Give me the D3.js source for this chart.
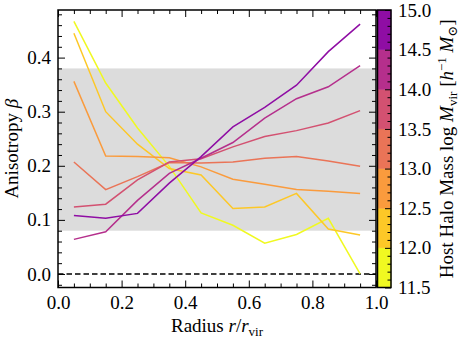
<!DOCTYPE html>
<html>
<head>
<meta charset="utf-8">
<script src="https://cdn.jsdelivr.net/npm/d3@7"></script>
<style>
  body { margin: 0; background: #fff; }
  svg { display: block; }
  text { font-family: "Liberation Serif", "DejaVu Serif", serif; fill: #000; }
</style>
</head>
<body>
<svg width="461" height="339"></svg>
<script>
// radial bins (bin centres, r / r_vir)
const radius = [0.05, 0.15, 0.25, 0.35, 0.45, 0.55, 0.65, 0.75, 0.85, 0.95];

// host halo mass bins (log M_vir), edges of the discrete colorbar
const massEdges = [11.5, 12.0, 12.5, 13.0, 13.5, 14.0, 14.5, 15.0];

// anisotropy profiles, one per mass bin (low -> high)
const beta_115_120 = [0.467, 0.353, 0.270, 0.199, 0.113, 0.090, 0.057, 0.073, 0.103, 0.000];
const beta_120_125 = [0.445, 0.300, 0.240, 0.195, 0.183, 0.121, 0.124, 0.149, 0.083, 0.072];
const beta_125_130 = [0.356, 0.218, 0.217, 0.215, 0.198, 0.175, 0.166, 0.156, 0.153, 0.149];
const beta_130_135 = [0.207, 0.156, 0.180, 0.206, 0.205, 0.207, 0.214, 0.217, 0.209, 0.199];
const beta_135_140 = [0.124, 0.129, 0.174, 0.207, 0.213, 0.235, 0.254, 0.265, 0.279, 0.302];
const beta_140_145 = [0.064, 0.078, 0.136, 0.186, 0.214, 0.243, 0.288, 0.324, 0.346, 0.385];
const beta_145_150 = [0.108, 0.103, 0.112, 0.168, 0.217, 0.272, 0.308, 0.349, 0.411, 0.462];

const profiles = [beta_115_120, beta_120_125, beta_125_130, beta_130_135,
                  beta_135_140, beta_140_145, beta_145_150];

// shaded band
const bandLow = 0.08, bandHigh = 0.38;

const xTicks = [0.0, 0.2, 0.4, 0.6, 0.8, 1.0];
const yTicks = [0.0, 0.1, 0.2, 0.3, 0.4];
const cTicks = [11.5, 12.0, 12.5, 13.0, 13.5, 14.0, 14.5, 15.0];

const svg = d3.select("svg");
const L = 58, R = 376, T = 10, B = 287.5;
const fs = 19;

const x = d3.scaleLinear().domain([0, 1]).range([L, R]);
const y = d3.scaleLinear().domain([-0.025, 0.488]).range([B, T]);

// colours: truncated plasma, reversed (yellow = low mass)
const colorOf = i => d3.interpolatePlasma(0.3 + (6 - i) * 0.7 / 6);

// grey band
svg.append("rect")
    .attr("x", x(0)).attr("width", x(1) - x(0))
    .attr("y", y(bandHigh)).attr("height", y(bandLow) - y(bandHigh))
    .attr("fill", "#dcdcdc");

// zero line
svg.append("line")
    .attr("x1", x(0)).attr("x2", x(1))
    .attr("y1", y(0)).attr("y2", y(0))
    .attr("stroke", "#000").attr("stroke-width", 1.5)
    .attr("stroke-dasharray", "5.5,3");

// profiles
const line = d3.line().x((d, i) => x(radius[i])).y(d => y(d));
profiles.forEach((p, i) => {
    svg.append("path")
        .attr("d", line(p))
        .attr("fill", "none")
        .attr("stroke", colorOf(i))
        .attr("stroke-width", 1.5);
});

// axes with inward ticks on all sides
function ticks(axis, tr, vals, size, labels, pad) {
    const g = svg.append("g").attr("transform", tr)
        .call(axis.tickValues(vals).tickSizeInner(-size).tickSizeOuter(0)
            .tickPadding(pad || 6)
            .tickFormat(labels ? d3.format(".1f") : ""));
    g.select(".domain").remove();
    g.selectAll(".tick line").attr("stroke", "#000").attr("stroke-width", 1);
    g.selectAll("text").attr("font-size", fs).attr("font-family", null);
    return g;
}
const xMinor = d3.range(0, 1.0001, 0.05).filter(v => Math.abs(v * 5 - Math.round(v * 5)) > 1e-6);
const yMinor = d3.range(-0.02, 0.4801, 0.02).filter(v => Math.abs(v * 10 - Math.round(v * 10)) > 1e-6);

ticks(d3.axisBottom(x), `translate(0,${B})`, xTicks, 7, true, 8);
ticks(d3.axisBottom(x), `translate(0,${B})`, xMinor, 4, false);
ticks(d3.axisTop(x), `translate(0,${T})`, xTicks, 7, false);
ticks(d3.axisTop(x), `translate(0,${T})`, xMinor, 4, false);
ticks(d3.axisLeft(y), `translate(${L},0)`, yTicks, 7, true, 7);
ticks(d3.axisLeft(y), `translate(${L},0)`, yMinor, 4, false);
ticks(d3.axisRight(y), `translate(${R},0)`, yTicks, 7, false);
ticks(d3.axisRight(y), `translate(${R},0)`, yMinor, 4, false);

// frame
svg.append("rect")
    .attr("x", L).attr("y", T).attr("width", R - L).attr("height", B - T)
    .attr("fill", "none").attr("stroke", "#000").attr("stroke-width", 1.5);

// colorbar
const cx0 = 377.5, cx1 = 391;
const c = d3.scaleLinear().domain([11.5, 15]).range([B, T]);
svg.selectAll(".cbin")
    .data(d3.pairs(massEdges))
    .enter().append("rect")
    .attr("x", cx0).attr("width", cx1 - cx0)
    .attr("y", d => c(d[1])).attr("height", d => c(d[0]) - c(d[1]))
    .attr("fill", (d, i) => colorOf(i))
    .attr("stroke", (d, i) => colorOf(i)).attr("stroke-width", 0.5);
const cMinor = d3.range(11.6, 14.95, 0.1).filter(v => Math.abs(v * 2 - Math.round(v * 2)) > 1e-6);
ticks(d3.axisRight(c), `translate(${cx1},0)`, cTicks, 6, true, 7);
ticks(d3.axisRight(c), `translate(${cx1},0)`, cMinor, 3.5, false);
svg.append("rect")
    .attr("x", cx0).attr("y", T).attr("width", cx1 - cx0).attr("height", B - T)
    .attr("fill", "none").attr("stroke", "#000").attr("stroke-width", 1.5);

// axis labels
const xl = svg.append("text")
    .attr("x", (L + R) / 2).attr("y", 332)
    .attr("text-anchor", "middle").attr("font-size", fs);
xl.append("tspan").text("Radius ");
xl.append("tspan").attr("font-style", "italic").text("r");
xl.append("tspan").text("/");
xl.append("tspan").attr("font-style", "italic").text("r");
xl.append("tspan").attr("font-size", 13).attr("dy", 4).text("vir");

const ylab = svg.append("text")
    .attr("transform", `translate(18,${(T + B) / 2}) rotate(-90)`)
    .attr("text-anchor", "middle").attr("font-size", fs);
ylab.append("tspan").text("Anisotropy ");
ylab.append("tspan").attr("font-style", "italic").text("β");

const clab = svg.append("text")
    .attr("transform", `translate(453,${(T + B) / 2}) rotate(-90)`)
    .attr("text-anchor", "middle").attr("font-size", fs);
clab.append("tspan").text("Host Halo Mass log ");
clab.append("tspan").attr("font-style", "italic").text("M");
clab.append("tspan").attr("font-size", 13).attr("dy", 4).text("vir");
clab.append("tspan").attr("dy", -4).text(" [");
clab.append("tspan").attr("font-style", "italic").text("h");
clab.append("tspan").attr("font-size", 13).attr("dy", -7).text("−1");
clab.append("tspan").attr("dy", 7).text(" ");
clab.append("tspan").attr("font-style", "italic").text("M");
clab.append("tspan").attr("font-size", 13).attr("dy", 4).text("⊙");
clab.append("tspan").attr("dy", -4).text("]");
</script>
</body>
</html>
